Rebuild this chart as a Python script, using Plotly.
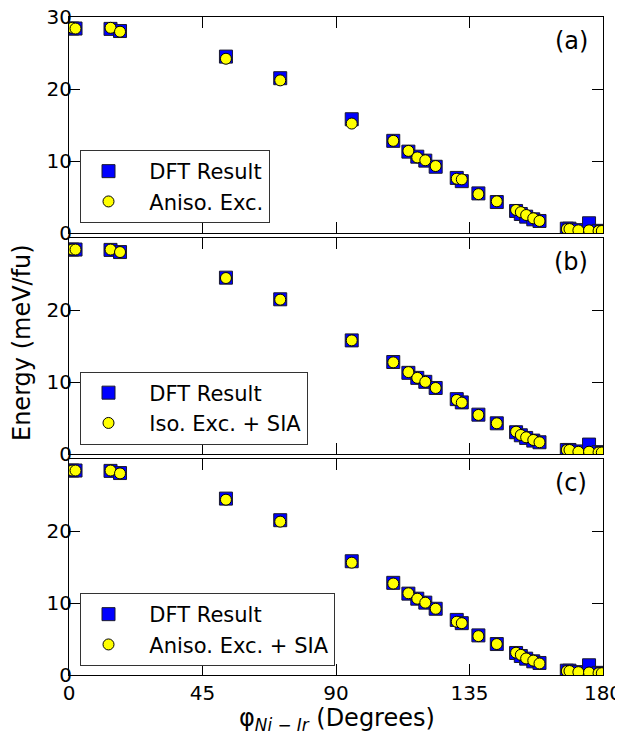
import plotly.graph_objects as go

# ---- data ----
phi = [1.1, 2.2, 14.0, 17.2, 52.9, 71.2, 95.3, 109.3, 114.4, 117.4, 120.1, 123.6,
       130.7, 132.4, 138.0, 144.2, 150.7, 152.3, 154.1, 156.5, 158.6,
       167.8, 168.7, 171.7, 175.3, 178.5, 179.6]

dft = [28.4, 28.4, 28.35, 28.05, 24.5, 21.5, 15.8, 12.8, 11.3, 10.6, 10.05, 9.2,
       7.65, 7.2, 5.5, 4.3, 3.06, 2.64, 2.27, 1.9, 1.67,
       0.6, 0.6, 0.4, 1.35, 0.3, 0.2]

aniso_exc = [28.5, 28.4, 28.5, 27.96, 24.2, 21.2, 15.2, 12.8, 11.4, 10.5, 10.1, 9.3,
             7.54, 7.45, 5.4, 4.4, 3.2, 2.9, 2.5, 2.04, 1.67,
             0.55, 0.55, 0.37, 0.37, 0.28, 0.28]

iso_exc_sia = [28.4, 28.4, 28.4, 28.05, 24.45, 21.45, 15.8, 12.75, 11.4, 10.6, 10.05, 9.2,
               7.54, 7.17, 5.46, 4.3, 3.14, 2.68, 2.36, 1.99, 1.67,
               0.6, 0.6, 0.35, 0.36, 0.25, 0.25]

aniso_exc_sia = [28.4, 28.4, 28.4, 28.0, 24.35, 21.3, 15.6, 12.7, 11.35, 10.6, 10.05, 9.2,
                 7.4, 7.2, 5.4, 4.3, 3.1, 2.8, 2.3, 2.0, 1.6,
                 0.55, 0.55, 0.4, 0.35, 0.25, 0.25]

model_names = ["Aniso. Exc.", "Iso. Exc. + SIA", "Aniso. Exc. + SIA"]
model_values = [aniso_exc, iso_exc_sia, aniso_exc_sia]
panel_labels = ["(a)", "(b)", "(c)"]
x_ticks = [0, 45, 90, 135, 180]

FONT = "DejaVu Sans"
W, H = 623, 738
OFF = 8  # page body margin offset of the figure in the browser window
# desired plot-area edges in window pixels
PL, PR, PT, PB = 69, 603, 17, 675
ML, MT = PL - OFF, PT - OFF
MR, MB = W - (PR - OFF), H - (PB - OFF)

def py(pix):  # window pixel y -> paper y
    return (PB - pix) / (PB - PT)

def px(pix):  # window pixel x -> paper x
    return (pix - PL) / (PR - PL)

panel_px = [(17, 233), (238, 454.3), (459, 675)]
legend_bottom_px = [223, 444.5, 666]
PAD = "\u00a0\u00a0"

fig = go.Figure()
legend_keys = ["legend", "legend2", "legend3"]

for i in range(3):
    xa = "x" if i == 0 else f"x{i+1}"
    ya = "y" if i == 0 else f"y{i+1}"
    fig.add_trace(go.Scatter(
        x=phi, y=dft, mode="markers", name=PAD + "DFT Result",
        xaxis=xa, yaxis=ya, legend=legend_keys[i],
        marker=dict(symbol="square", size=13, color="#0000ff",
                    line=dict(color="#1a1a2e", width=1)),
    ))
    fig.add_trace(go.Scatter(
        x=phi, y=model_values[i], mode="markers", name=PAD + model_names[i],
        xaxis=xa, yaxis=ya, legend=legend_keys[i],
        marker=dict(symbol="circle", size=11, color="#ffff00",
                    line=dict(color="black", width=1)),
    ))

axis_common = dict(
    showline=True, linecolor="black", linewidth=1, mirror="ticks",
    ticks="inside", ticklen=11, tickwidth=1, tickcolor="black",
    showgrid=False, zeroline=False, automargin=False,
    ticklabeloverflow="allow",
    tickfont=dict(family=FONT, size=20, color="black"),
)

layout = dict(
    template="none",
    width=W, height=H,
    margin=dict(l=ML, r=MR, t=MT, b=MB, autoexpand=False),
    plot_bgcolor="white", paper_bgcolor="white",
    font=dict(family=FONT, color="black"),
)

for i in range(3):
    top, bot = panel_px[i]
    xkey = "xaxis" if i == 0 else f"xaxis{i+1}"
    ykey = "yaxis" if i == 0 else f"yaxis{i+1}"
    ya = "y" if i == 0 else f"y{i+1}"
    layout[xkey] = dict(axis_common, range=[0, 180], tickvals=x_ticks,
                        showticklabels=(i == 2), anchor=ya, domain=[0, 1])
    if i > 0:
        layout[xkey]["matches"] = "x"
    yt = [0, 10, 20, 30] if i == 0 else [0, 10, 20]
    layout[ykey] = dict(axis_common, range=[0, 30], tickvals=yt,
                        ticklabelstandoff=-8,
                        domain=[py(bot), py(top)],
                        anchor="x" if i == 0 else f"x{i+1}")
    layout[legend_keys[i]] = dict(
        x=px(80), y=py(legend_bottom_px[i]), xanchor="left", yanchor="bottom",
        bgcolor="white", bordercolor="#333333", borderwidth=1,
        font=dict(family=FONT, size=21, color="black"),
        itemwidth=45, tracegroupgap=0,
    )

fig.update_layout(**layout)

annotations = []
for i in range(3):
    top, bot = panel_px[i]
    annotations.append(dict(
        text=panel_labels[i], xref="paper", yref="paper",
        x=px(571), y=py(top + 24), xanchor="center", yanchor="middle",
        showarrow=False, font=dict(family=FONT, size=24, color="black"),
    ))
annotations.append(dict(
    text="Energy (meV/fu)", xref="paper", yref="paper",
    x=px(22), y=py(343), xanchor="center", yanchor="middle", textangle=-90,
    showarrow=False, font=dict(family=FONT, size=24, color="black"),
))
annotations.append(dict(
    text="φ<sub><i>Ni − Ir</i></sub> (Degrees)", xref="paper", yref="paper",
    x=px(337), y=py(719), xanchor="center", yanchor="middle",
    showarrow=False, font=dict(family=FONT, size=24, color="black"),
))
fig.update_layout(annotations=annotations)

fig.write_html("out.html")
